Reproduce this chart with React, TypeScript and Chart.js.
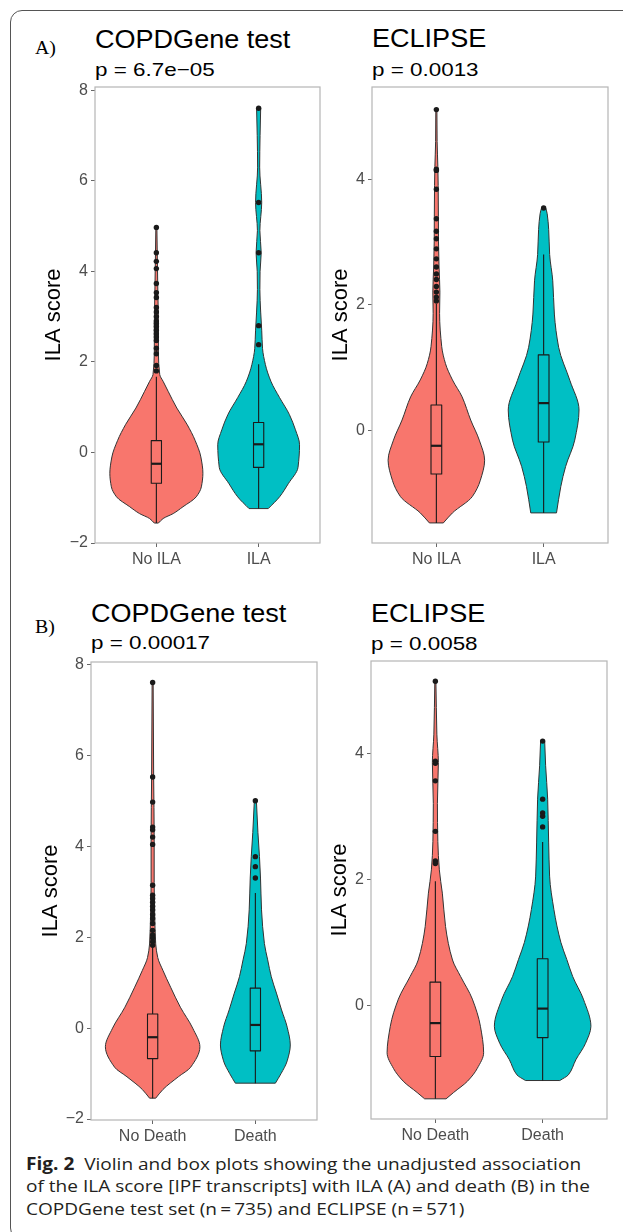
import React, { useEffect, useRef } from "react";
import { Chart, registerables } from "chart.js";

Chart.register(...registerables);

// ---------- categories & tick labels ----------
const ilaCategories = ["No ILA", "ILA"];
const deathCategories = ["No Death", "Death"];
const copdYTicks = [-2, 0, 2, 4, 6, 8];
const eclipseYTicks = [0, 2, 4];

// ---------- A) COPDGene test : ILA ----------
// violin outline: ILA score levels and half-widths (x-axis units)
const copdNoIlaY = [-1.56, -1.46, -1.35, -1.2, -0.98, -0.76, -0.46, -0.1, 0.26, 0.62, 0.98, 1.35, 1.57, 1.72, 2.2, 2.8, 3.5, 4.2, 4.97];
const copdNoIlaW = [0.02, 0.066, 0.165, 0.26, 0.39, 0.44, 0.455, 0.435, 0.38, 0.3, 0.2, 0.115, 0.066, 0.033, 0.02, 0.02, 0.015, 0.01, 0.005];
// box: lower whisker, Q1, median, Q3, upper whisker
const copdNoIlaBox = [-1.56, -0.68, -0.25, 0.26, 1.67];
const copdNoIlaOut = [4.97, 4.41, 4.22, 4.06, 3.73, 3.53, 3.42, 3.2, 3.1, 3.0, 2.9, 2.85, 2.78, 2.7, 2.62, 2.55, 2.47, 2.3, 2.18, 1.92, 1.8];

const copdIlaY = [-1.24, -0.98, -0.69, -0.33, 0.17, 0.5, 0.84, 1.21, 1.57, 1.94, 2.3, 2.7, 3.1, 3.6, 4.0, 4.41, 4.9, 5.52, 6.3, 7.0, 7.6];
const copdIlaW = [0.094, 0.205, 0.29, 0.385, 0.4, 0.36, 0.3, 0.205, 0.12, 0.066, 0.038, 0.03, 0.02, 0.012, 0.014, 0.025, 0.012, 0.03, 0.01, 0.014, 0.02];
const copdIlaBox = [-1.24, -0.33, 0.18, 0.66, 1.95];
const copdIlaOut = [7.6, 5.52, 4.41, 2.8, 2.38];

// ---------- A) ECLIPSE : ILA ----------
const eclNoIlaY = [-1.48, -1.32, -1.06, -0.8, -0.48, -0.16, 0.16, 0.53, 0.8, 1.06, 1.33, 1.86, 2.2, 2.6, 3.0, 3.4, 3.9, 4.2, 4.6, 5.11];
const eclNoIlaW = [0.065, 0.15, 0.335, 0.41, 0.45, 0.4, 0.32, 0.24, 0.15, 0.085, 0.05, 0.03, 0.033, 0.025, 0.02, 0.019, 0.017, 0.014, 0.007, 0.005];
const eclNoIlaBox = [-1.48, -0.7, -0.25, 0.4, 2.02];
const eclNoIlaOut = [5.11, 4.16, 4.14, 3.84, 3.37, 3.17, 3.05, 2.89, 2.73, 2.6, 2.49, 2.4, 2.29, 2.2, 2.12, 2.06];

const eclIlaY = [-1.32, -0.9, -0.58, -0.16, 0.32, 0.79, 1.32, 1.85, 2.38, 2.8, 3.2, 3.45, 3.54];
const eclIlaW = [0.12, 0.16, 0.205, 0.29, 0.33, 0.245, 0.14, 0.1, 0.085, 0.056, 0.047, 0.033, 0.02];
const eclIlaBox = [-1.32, -0.19, 0.43, 1.2, 2.8];
const eclIlaOut = [3.54];

// ---------- B) COPDGene test : death ----------
const copdNoDeathY = [-1.54, -1.35, -1.07, -0.86, -0.41, 0.0, 0.46, 0.9, 1.27, 1.55, 1.85, 2.5, 3.2, 4.2, 5.5, 7.6];
const copdNoDeathW = [0.03, 0.1, 0.25, 0.37, 0.46, 0.39, 0.27, 0.175, 0.1, 0.05, 0.03, 0.02, 0.015, 0.015, 0.01, 0.005];
const copdNoDeathBox = [-1.54, -0.67, -0.2, 0.31, 1.77];
const copdNoDeathOut = [7.6, 5.52, 4.97, 4.42, 4.36, 4.2, 4.04, 3.14, 2.92, 2.85, 2.77, 2.68, 2.6, 2.5, 2.41, 2.3, 2.15, 2.05, 1.98, 1.9, 1.82];

const copdDeathY = [-1.21, -1.0, -0.72, -0.37, 0.02, 0.4, 0.77, 1.13, 1.5, 1.86, 2.6, 3.3, 3.77, 4.3, 5.0];
const copdDeathW = [0.195, 0.25, 0.31, 0.34, 0.31, 0.255, 0.205, 0.155, 0.12, 0.088, 0.06, 0.05, 0.04, 0.025, 0.01];
const copdDeathBox = [-1.21, -0.5, 0.07, 0.88, 2.97];
const copdDeathOut = [5.0, 3.77, 3.55, 3.3];

// ---------- B) ECLIPSE : death ----------
const eclNoDeathY = [-1.48, -1.38, -1.2, -1.0, -0.75, -0.33, 0.1, 0.46, 0.72, 1.25, 1.78, 2.15, 2.6, 3.2, 3.85, 4.3, 5.14];
const eclNoDeathW = [0.1, 0.17, 0.3, 0.39, 0.45, 0.42, 0.345, 0.235, 0.16, 0.095, 0.065, 0.037, 0.023, 0.019, 0.028, 0.014, 0.005];
const eclNoDeathBox = [-1.48, -0.81, -0.28, 0.37, 1.97];
const eclNoDeathOut = [5.14, 3.87, 3.84, 3.56, 2.76, 2.29, 2.25];

const eclDeathY = [-1.19, -1.1, -0.86, -0.6, -0.33, 0.1, 0.46, 0.73, 1.0, 1.52, 2.05, 2.59, 3.27, 3.8, 4.19];
const eclDeathW = [0.16, 0.24, 0.31, 0.4, 0.45, 0.38, 0.28, 0.225, 0.17, 0.105, 0.065, 0.056, 0.047, 0.028, 0.019];
const eclDeathBox = [-1.19, -0.51, -0.05, 0.74, 2.59];
const eclDeathOut = [4.19, 3.27, 3.05, 3.0, 2.83];

// ---------- styling ----------
const RED = "#F8766D";
const TEAL = "#00BFC4";
const SANS = "'Liberation Sans', Arial, Helvetica, sans-serif";

type Group = { ys: number[]; ws: number[]; box: number[]; out: number[]; color: string };
type Panel = {
  left: number; top: number; width: number; height: number;
  yAxisWidth: number; padRight: number;
  yMin: number; yMax: number; yTicks: number[]; cats: string[]; groups: Group[];
};

const panels: Panel[] = [
  {
    left: 30, top: 70, width: 296, height: 503, yAxisWidth: 65, padRight: 6,
    yMin: -2.0, yMax: 8.07, yTicks: copdYTicks, cats: ilaCategories,
    groups: [
      { ys: copdNoIlaY, ws: copdNoIlaW, box: copdNoIlaBox, out: copdNoIlaOut, color: RED },
      { ys: copdIlaY, ws: copdIlaW, box: copdIlaBox, out: copdIlaOut, color: TEAL },
    ],
  },
  {
    left: 317, top: 70, width: 297, height: 503, yAxisWidth: 55, padRight: 6,
    yMin: -1.8, yMax: 5.47, yTicks: eclipseYTicks, cats: ilaCategories,
    groups: [
      { ys: eclNoIlaY, ws: eclNoIlaW, box: eclNoIlaBox, out: eclNoIlaOut, color: RED },
      { ys: eclIlaY, ws: eclIlaW, box: eclIlaBox, out: eclIlaOut, color: TEAL },
    ],
  },
  {
    left: 27, top: 645, width: 296, height: 505, yAxisWidth: 64, padRight: 6,
    yMin: -2.02, yMax: 8.05, yTicks: copdYTicks, cats: deathCategories,
    groups: [
      { ys: copdNoDeathY, ws: copdNoDeathW, box: copdNoDeathBox, out: copdNoDeathOut, color: RED },
      { ys: copdDeathY, ws: copdDeathW, box: copdDeathBox, out: copdDeathOut, color: TEAL },
    ],
  },
  {
    left: 316, top: 644, width: 297, height: 505, yAxisWidth: 55, padRight: 6,
    yMin: -1.8, yMax: 5.46, yTicks: eclipseYTicks, cats: deathCategories,
    groups: [
      { ys: eclNoDeathY, ws: eclNoDeathW, box: eclNoDeathBox, out: eclNoDeathOut, color: RED },
      { ys: eclDeathY, ws: eclDeathW, box: eclDeathBox, out: eclDeathOut, color: TEAL },
    ],
  },
];

// monotone cubic Hermite through points (x as a function of pixel y)
function hermite(ctx: CanvasRenderingContext2D, pts: number[][]) {
  const n = pts.length;
  if (n < 2) return;
  const h: number[] = [];
  const d: number[] = [];
  for (let i = 0; i < n - 1; i++) {
    const hh = pts[i + 1][1] - pts[i][1];
    h.push(hh === 0 ? 1e-6 : hh);
    d.push((pts[i + 1][0] - pts[i][0]) / h[i]);
  }
  const m: number[] = new Array(n).fill(0);
  m[0] = d[0];
  m[n - 1] = d[n - 2];
  for (let i = 1; i < n - 1; i++) {
    if (d[i - 1] * d[i] <= 0) m[i] = 0;
    else {
      const w1 = 2 * h[i] + h[i - 1];
      const w2 = h[i] + 2 * h[i - 1];
      m[i] = (w1 + w2) / (w1 / d[i - 1] + w2 / d[i]);
    }
  }
  for (let i = 0; i < n - 1; i++) {
    const [x0, y0] = pts[i];
    const [x1, y1] = pts[i + 1];
    const hh = h[i];
    ctx.bezierCurveTo(x0 + (m[i] * hh) / 3, y0 + hh / 3, x1 - (m[i + 1] * hh) / 3, y1 - hh / 3, x1, y1);
  }
}

function makeViolinPlugin(groups: Group[]) {
  return {
    id: "violinBox",
    beforeDatasetsDraw(chart: any) {
      const { ctx, chartArea: a } = chart;
      const xs = chart.scales.x;
      const ys = chart.scales.y;
      ctx.save();
      ctx.beginPath();
      ctx.rect(a.left, a.top, a.right - a.left, a.bottom - a.top);
      ctx.clip();
      groups.forEach((g, i) => {
        const c = i + 1;
        const right = g.ys.map((v, k) => [xs.getPixelForValue(c + g.ws[k]), ys.getPixelForValue(v)]);
        const left = g.ys.map((v, k) => [xs.getPixelForValue(c - g.ws[k]), ys.getPixelForValue(v)]).reverse();
        ctx.beginPath();
        ctx.moveTo(right[0][0], right[0][1]);
        hermite(ctx, right);
        ctx.lineTo(left[0][0], left[0][1]);
        hermite(ctx, left);
        ctx.closePath();
        ctx.fillStyle = g.color;
        ctx.fill();
        ctx.strokeStyle = "#333333";
        ctx.lineWidth = 1;
        ctx.lineJoin = "round";
        ctx.stroke();

        const [lo, q1, med, q3, hi] = g.box;
        const cx = xs.getPixelForValue(c);
        const bx0 = xs.getPixelForValue(c - 0.05);
        const bx1 = xs.getPixelForValue(c + 0.05);
        const pq1 = ys.getPixelForValue(q1);
        const pq3 = ys.getPixelForValue(q3);
        ctx.strokeStyle = "#1a1a1a";
        ctx.lineWidth = 1.1;
        ctx.beginPath();
        ctx.moveTo(cx, pq3);
        ctx.lineTo(cx, ys.getPixelForValue(hi));
        ctx.moveTo(cx, pq1);
        ctx.lineTo(cx, ys.getPixelForValue(lo));
        ctx.stroke();
        ctx.strokeRect(bx0, pq3, bx1 - bx0, pq1 - pq3);
        ctx.lineWidth = 2.2;
        ctx.beginPath();
        const pm = ys.getPixelForValue(med);
        ctx.moveTo(bx0, pm);
        ctx.lineTo(bx1, pm);
        ctx.stroke();
      });
      ctx.restore();
    },
    afterDatasetsDraw(chart: any) {
      const { ctx, chartArea: a } = chart;
      ctx.save();
      ctx.strokeStyle = "#b5b5b5";
      ctx.lineWidth = 1.2;
      ctx.strokeRect(a.left, a.top, a.right - a.left, a.bottom - a.top);
      ctx.restore();
    },
  };
}

function buildConfig(p: Panel): any {
  return {
    type: "scatter",
    data: {
      datasets: p.groups.map((g, i) => ({
        label: p.cats[i],
        data: g.out.map((v) => ({ x: i + 1, y: v })),
        pointRadius: 2.7,
        pointHoverRadius: 2.7,
        backgroundColor: "#1a1a1a",
        borderColor: "#1a1a1a",
        borderWidth: 0,
      })),
    },
    options: {
      animation: false,
      responsive: false,
      maintainAspectRatio: false,
      events: [],
      layout: { padding: { top: 17, right: p.padRight, left: 0, bottom: 0 } },
      plugins: { legend: { display: false }, tooltip: { enabled: false }, title: { display: false } },
      scales: {
        x: {
          type: "linear",
          min: 0.4,
          max: 2.6,
          afterBuildTicks: (axis: any) => {
            axis.ticks = p.cats.map((_, i) => ({ value: i + 1 }));
          },
          afterFit: (axis: any) => {
            axis.height = 30;
          },
          grid: { drawOnChartArea: false, drawTicks: true, tickLength: 4, color: "#666666" },
          border: { display: false },
          ticks: {
            color: "#4d4d4d",
            font: { family: SANS, size: 16 },
            padding: 3,
            autoSkip: false,
            maxRotation: 0,
            callback: (v: number) => p.cats[Math.round(v) - 1] ?? "",
          },
        },
        y: {
          type: "linear",
          min: p.yMin,
          max: p.yMax,
          afterBuildTicks: (axis: any) => {
            axis.ticks = p.yTicks.map((v) => ({ value: v }));
          },
          afterFit: (axis: any) => {
            axis.width = p.yAxisWidth;
          },
          grid: { drawOnChartArea: false, drawTicks: true, tickLength: 4, color: "#666666" },
          border: { display: false },
          ticks: {
            color: "#4d4d4d",
            font: { family: SANS, size: 16 },
            padding: 3,
            callback: (v: number) => String(v).replace("-", "\u2212"),
          },
          title: {
            display: true,
            text: "ILA score",
            color: "#000000",
            font: { family: SANS, size: 22 },
            padding: { top: 11, bottom: 0 },
          },
        },
      },
    },
    plugins: [makeViolinPlugin(p.groups)],
  };
}

function ViolinPanel({ p }: { p: Panel }) {
  const ref = useRef<HTMLCanvasElement>(null);
  useEffect(() => {
    if (!ref.current) return;
    const chart = new Chart(ref.current, buildConfig(p));
    return () => chart.destroy();
  }, [p]);
  return (
    <canvas
      ref={ref}
      width={p.width}
      height={p.height}
      style={{ position: "absolute", left: p.left, top: p.top, width: p.width, height: p.height }}
    />
  );
}

function Label({ text, left, baseline, size, serif, sx }: { text: string; left: number; baseline: number; size: number; serif?: boolean; sx?: number }) {
  const k = serif ? 0.8375 : 0.8465;
  return (
    <div
      style={{
        position: "absolute",
        left,
        top: baseline - k * size,
        fontFamily: serif ? "'Liberation Serif', 'Times New Roman', serif" : SANS,
        fontSize: size,
        lineHeight: 1,
        whiteSpace: "nowrap",
        color: "#000",
        transform: sx ? `scaleX(${sx})` : undefined,
        transformOrigin: "left center",
      }}
    >
      {text}
    </div>
  );
}

const CAP = "'Open Sans', 'Noto Sans', sans-serif";
const capSize = 17;

function CaptionLine({ baseline, children }: { baseline: number; children: React.ReactNode }) {
  return (
    <div
      style={{
        position: "absolute",
        left: 25.5,
        top: baseline - 0.888 * capSize,
        fontFamily: CAP,
        fontSize: capSize,
        lineHeight: 1,
        whiteSpace: "nowrap",
        color: "#231f20",
        transform: "scaleX(1.12)",
        transformOrigin: "left center",
      }}
    >
      {children}
    </div>
  );
}

export default function App() {
  return (
    <div style={{ position: "absolute", left: 0, top: 0, width: 623, height: 1232, overflow: "hidden", background: "#fff" }}>
      <div
        style={{
          position: "absolute",
          left: 10,
          top: 10,
          width: 700,
          height: 1230,
          border: "1px solid #555",
          borderRadius: 12,
          boxSizing: "border-box",
        }}
      />
      <Label text="A)" left={35} baseline={54.5} size={18} serif sx={1.1} />
      <Label text="B)" left={35} baseline={632.7} size={18} serif sx={1.1} />

      <Label text="COPDGene test" left={95} baseline={48.5} size={26} sx={1.04} />
      <Label text={"p = 6.7e\u221205"} left={95} baseline={76} size={19} sx={1.18} />
      <Label text="ECLIPSE" left={372} baseline={47} size={26} sx={1.04} />
      <Label text="p = 0.0013" left={372} baseline={76} size={19} sx={1.18} />

      <Label text="COPDGene test" left={91} baseline={621.7} size={26} sx={1.04} />
      <Label text="p = 0.00017" left={91} baseline={649} size={19} sx={1.18} />
      <Label text="ECLIPSE" left={371} baseline={621.7} size={26} sx={1.04} />
      <Label text="p = 0.0058" left={371} baseline={650} size={19} sx={1.18} />

      {panels.map((p, i) => (
        <ViolinPanel key={i} p={p} />
      ))}

      <CaptionLine baseline={1170}>
        <b>Fig. 2</b>&nbsp; Violin and box plots showing the unadjusted association
      </CaptionLine>
      <CaptionLine baseline={1192.5}>
        of the ILA score [IPF transcripts] with ILA (A) and death (B) in the
      </CaptionLine>
      <CaptionLine baseline={1215}>
        COPDGene test set (n{"\u2009=\u2009"}735) and ECLIPSE (n{"\u2009=\u2009"}571)
      </CaptionLine>
    </div>
  );
}
